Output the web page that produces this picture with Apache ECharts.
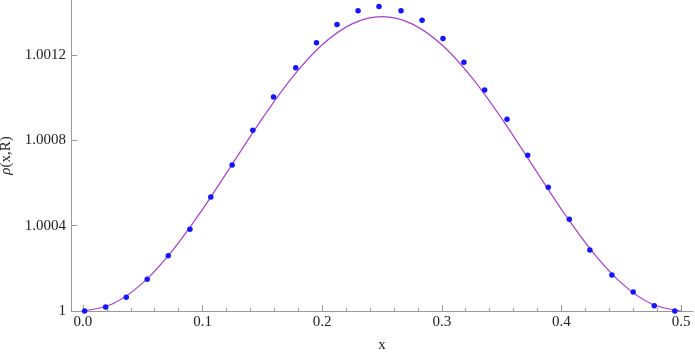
<!DOCTYPE html>
<html>
<head>
<meta charset="utf-8">
<script src="https://cdn.jsdelivr.net/npm/echarts@6/dist/echarts.min.js"></script>
<style>
  html, body { margin: 0; padding: 0; background: #fff; }
  #main { width: 695px; height: 356px; }
</style>
</head>
<body>
<div id="main"></div>
<script>
// sampled points (blue dots)
var dotX = [0.0014, 0.019, 0.0362, 0.0537, 0.0713, 0.0894, 0.1069, 0.1247, 0.142, 0.1593,
  0.1779, 0.1952, 0.2124, 0.23, 0.2475, 0.2659, 0.2835, 0.301, 0.3185, 0.3358,
  0.3545, 0.3718, 0.389, 0.4066, 0.4238, 0.4422, 0.46, 0.4776, 0.4948];
var dotY = [1, 1.0000188, 1.0000642, 1.0001487, 1.0002593, 1.000383, 1.000535, 1.000685, 1.000847, 1.001003,
  1.00114, 1.001258, 1.001343, 1.001408, 1.001427, 1.001408, 1.001363, 1.001277, 1.001166, 1.001036,
  1.000899, 1.00073, 1.00058, 1.00043, 1.000286, 1.000169, 1.0000891, 1.0000249, 1];

// purple curve, read every 0.025
var curveX = [0, 0.025, 0.05, 0.075, 0.1, 0.125, 0.15, 0.175, 0.2, 0.225, 0.25,
  0.275, 0.3, 0.325, 0.35, 0.375, 0.4, 0.425, 0.45, 0.475, 0.5];
var curveY = [1, 1.0000338, 1.0001318, 1.0002845, 1.0004768, 1.00069, 1.0009032, 1.0010956, 1.0012482, 1.0013462, 1.00138,
  1.0013462, 1.0012482, 1.0010956, 1.0009032, 1.00069, 1.0004768, 1.0002845, 1.0001318, 1.0000338, 1];

var xMajor = [0, 0.1, 0.2, 0.3, 0.4, 0.5];
var xMinor = [0.02, 0.04, 0.06, 0.08, 0.12, 0.14, 0.16, 0.18, 0.22, 0.24, 0.26, 0.28,
  0.32, 0.34, 0.36, 0.38, 0.42, 0.44, 0.46, 0.48];
var yTicks = [1, 1.0004, 1.0008, 1.0012];

var font = 'Liberation Serif';
var axisGray = '#999';

var zip = function(xs, ys) {
  var res = [];
  for (var i = 0; i < xs.length; i++) res.push([xs[i], ys[i]]);
  return res;
};

var option = {
  animation: false,
  backgroundColor: '#fff',
  grid: { left: 71, right: 2, top: 0, bottom: 45, containLabel: false, outerBoundsMode: 'none' },
  xAxis: [
    {
      type: 'value',
      min: -0.01,
      max: 0.51,
      name: 'x',
      nameLocation: 'middle',
      nameGap: 27,
      nameTextStyle: { fontFamily: font, fontSize: 15, color: '#222' },
      axisLine: { onZero: false, lineStyle: { color: axisGray, width: 1 } },
      axisTick: { inside: true, length: 6, customValues: xMajor, lineStyle: { color: axisGray } },
      axisLabel: {
        customValues: xMajor,
        margin: 4,
        fontFamily: font, fontSize: 15, color: '#222',
        formatter: function(v) { return v.toFixed(1); }
      },
      splitLine: { show: false }
    },
    {
      type: 'value',
      position: 'bottom',
      min: -0.01,
      max: 0.51,
      axisLine: { show: false, onZero: false },
      axisTick: { inside: true, length: 3, customValues: xMinor, lineStyle: { color: axisGray } },
      axisLabel: { show: false },
      splitLine: { show: false }
    }
  ],
  yAxis: {
    type: 'value',
    min: 1,
    max: 1.001458,
    name: '{i|ρ}(x,R)',
    nameLocation: 'middle',
    nameGap: 57,
    nameMoveOverlap: false,
    nameRotate: 90,
    nameTextStyle: {
      fontFamily: font, fontSize: 15, color: '#222',
      rich: { i: { fontFamily: font, fontSize: 15, fontStyle: 'italic', color: '#222' } }
    },
    axisLine: { onZero: false, lineStyle: { color: axisGray, width: 1 } },
    axisTick: { inside: true, length: 6, customValues: yTicks, lineStyle: { color: axisGray } },
    axisLabel: {
      customValues: yTicks,
      margin: 5,
      fontFamily: font, fontSize: 15, color: '#222',
      formatter: function(v) { return Math.abs(v - 1) < 1e-9 ? '1' : v.toFixed(4); }
    },
    splitLine: { show: false }
  },
  series: [
    {
      type: 'line',
      data: zip(curveX, curveY),
      smooth: 0.35,
      showSymbol: false,
      clip: false,
      lineStyle: { color: '#a442c4', width: 1.2 },
      z: 2
    },
    {
      type: 'scatter',
      data: zip(dotX, dotY),
      symbolSize: 5.5,
      clip: false,
      itemStyle: { color: '#1515ff', opacity: 1 },
      z: 3
    }
  ]
};

var chart = echarts.init(document.getElementById('main'));
chart.setOption(option);
</script>
</body>
</html>
